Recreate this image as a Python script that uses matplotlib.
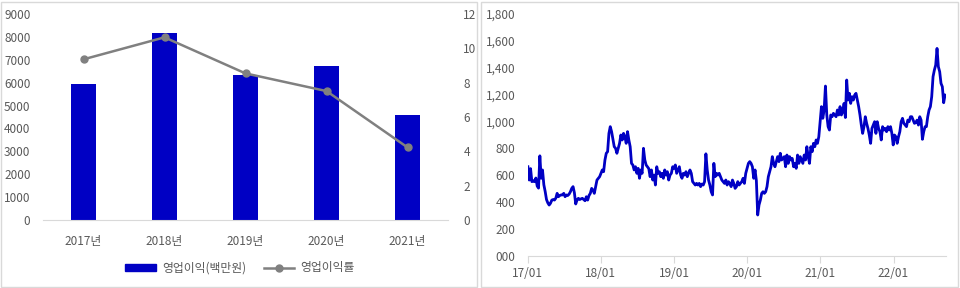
import matplotlib
matplotlib.use("Agg")
import matplotlib.pyplot as plt
import matplotlib.dates as mdates
from matplotlib.patches import Rectangle
from matplotlib.lines import Line2D
import pandas as pd

plt.rcParams["font.family"] = ["Noto Sans CJK KR", "DejaVu Sans"]

# left panel: operating profit (bars) and operating margin (line)
years = ["2017년", "2018년", "2019년", "2020년", "2021년"]
op_profit = [5940, 8170, 6330, 6730, 4590]
op_margin = [9.36, 10.64, 8.54, 7.51, 4.23]

# right panel: share price, evenly spaced samples from 2017-01 to 2022-09
price = [
    664, 565, 650, 553, 560, 553, 580, 520, 505, 745, 578, 640, 530, 480, 420, 395,
    379, 392, 416, 420, 416, 430, 466, 441, 450, 454, 454, 466, 441, 454, 450, 460,
    478, 503, 516, 470, 387, 416, 429, 420, 425, 429, 420, 411, 441, 416, 450, 466,
    503, 490, 466, 516, 565, 578, 590, 615, 640, 627, 714, 764, 776, 912, 962, 925,
    870, 813, 801, 764, 801, 838, 900, 863, 912, 887, 838, 925, 863, 813, 689, 677,
    640, 664, 615, 652, 578, 640, 615, 801, 715, 677, 664, 650, 590, 640, 565, 602,
    528, 664, 615, 627, 590, 615, 578, 640, 602, 627, 565, 602, 615, 664, 652, 677,
    615, 640, 664, 602, 578, 615, 602, 627, 590, 615, 640, 615, 553, 540, 528, 540,
    528, 540, 516, 535, 528, 553, 760, 640, 565, 528, 478, 454, 689, 590, 615, 602,
    615, 590, 565, 553, 540, 565, 528, 553, 540, 516, 565, 540, 503, 516, 553, 528,
    540, 553, 578, 540, 615, 652, 689, 702, 689, 664, 578, 640, 560, 305, 380, 416,
    466, 478, 466, 478, 516, 590, 627, 664, 739, 689, 664, 702, 739, 702, 764, 714,
    726, 739, 664, 751, 689, 739, 714, 726, 664, 689, 652, 751, 689, 739, 714, 689,
    751, 714, 813, 739, 689, 813, 776, 838, 813, 863, 838, 887, 1000, 1111, 1024, 1086,
    1264, 1050, 962, 937, 1049, 1036, 1061, 1049, 1036, 1086, 1049, 1111, 1049, 1073, 1135, 1030,
    1309, 1160, 1210, 1135, 1185, 1160, 1197, 1210, 1160, 1111, 1049, 974, 912, 962, 1036, 987,
    949, 900, 838, 949, 974, 999, 912, 999, 949, 925, 863, 962, 937, 949, 925, 962,
    937, 962, 912, 826, 900, 887, 838, 887, 925, 999, 1024, 987, 974, 962, 1011, 999,
    1036, 1036, 1011, 987, 992, 1011, 974, 1036, 1011, 868, 925, 962, 962, 1036, 1086, 1111,
    1185, 1334, 1383, 1420, 1544, 1408, 1371, 1284, 1259, 1140, 1197,
]
price_start = "2017-01-02"
price_end = "2022-09-15"
price_ticks = [0, 200, 400, 600, 800, 1000, 1200, 1400, 1600, 1800]
price_ticklabels = ["000", "200", "400", "600", "800", "1,000", "1,200", "1,400", "1,600", "1,800"]
date_ticks = ["2017-01-01", "2018-01-01", "2019-01-01", "2020-01-01", "2021-01-01", "2022-01-01"]

BLUE = "#0000C4"
GRAY = "#808080"
TXT = "#595959"
GRID = "#D9D9D9"

fig = plt.figure(figsize=(9.6, 2.88), dpi=100)

# panel borders
for x0, w in [(1 / 960, 476 / 960), (481 / 960, 477 / 960)]:
    fig.patches.append(Rectangle((x0, 1 / 288), w, 285 / 288, transform=fig.transFigure,
                                 fill=False, edgecolor=GRID, linewidth=1.0))

# ---- left: bars + margin line
ax = fig.add_axes([43 / 960, 1 - 220 / 288, 405 / 960, 206 / 288])
x = list(range(len(years)))
ax.bar(x, op_profit, width=0.31, color=BLUE, zorder=2)
ax.set_xlim(-0.5, 4.5)
ax.set_ylim(0, 9000)
ax.set_yticks(range(0, 9001, 1000))
ax.set_xticks(x)
ax.set_xticklabels(years)
for s in ["top", "left", "right"]:
    ax.spines[s].set_visible(False)
ax.spines["bottom"].set_color(GRID)
ax.tick_params(axis="both", length=0, labelsize=8.5, colors=TXT)
ax.tick_params(axis="x", pad=11)
ax.tick_params(axis="y", pad=9)

ax2 = ax.twinx()
ax2.plot(x, op_margin, color=GRAY, linewidth=1.8, marker="o", markersize=5, zorder=3)
ax2.set_ylim(0, 12)
ax2.set_yticks(range(0, 13, 2))
for s in ["top", "left", "right", "bottom"]:
    ax2.spines[s].set_visible(False)
ax2.tick_params(axis="y", length=0, labelsize=8.5, colors=TXT, pad=11)

handles = [
    Rectangle((0, 0), 1, 1, color=BLUE),
    Line2D([0], [0], color=GRAY, linewidth=1.8, marker="o", markersize=5),
]
leg = fig.legend(handles, ["영업이익(백만원)", "영업이익률"], loc="center",
                 bbox_to_anchor=(240 / 960, 1 - 268 / 288), ncol=2, frameon=False,
                 fontsize=8.5, handlelength=2.6, handleheight=0.5, columnspacing=1.5,
                 handletextpad=0.5)
for t in leg.get_texts():
    t.set_color(TXT)

# ---- right: share price
axp = fig.add_axes([527.7 / 960, 1 - 256 / 288, 418.3 / 960, 242 / 288])
dates = pd.date_range(price_start, price_end, periods=len(price))
axp.plot(dates, price, color=BLUE, linewidth=2.0)
axp.set_ylim(0, 1800)
axp.set_yticks(price_ticks)
axp.set_yticklabels(price_ticklabels)
axp.set_xlim(pd.Timestamp("2017-01-01"), pd.Timestamp("2022-09-20"))
axp.set_xticks(pd.to_datetime(date_ticks))
axp.xaxis.set_major_formatter(mdates.DateFormatter("%y/%m"))
for s in ["top", "left", "right"]:
    axp.spines[s].set_visible(False)
axp.spines["bottom"].set_color(GRID)
axp.tick_params(axis="x", length=5, color=GRID, direction="out", labelsize=8.5,
                colors=TXT, pad=3)
axp.tick_params(axis="x", color=GRID)
axp.tick_params(axis="y", length=0, labelsize=8.5, colors=TXT, pad=9)

fig.savefig("out.png", dpi=100)
